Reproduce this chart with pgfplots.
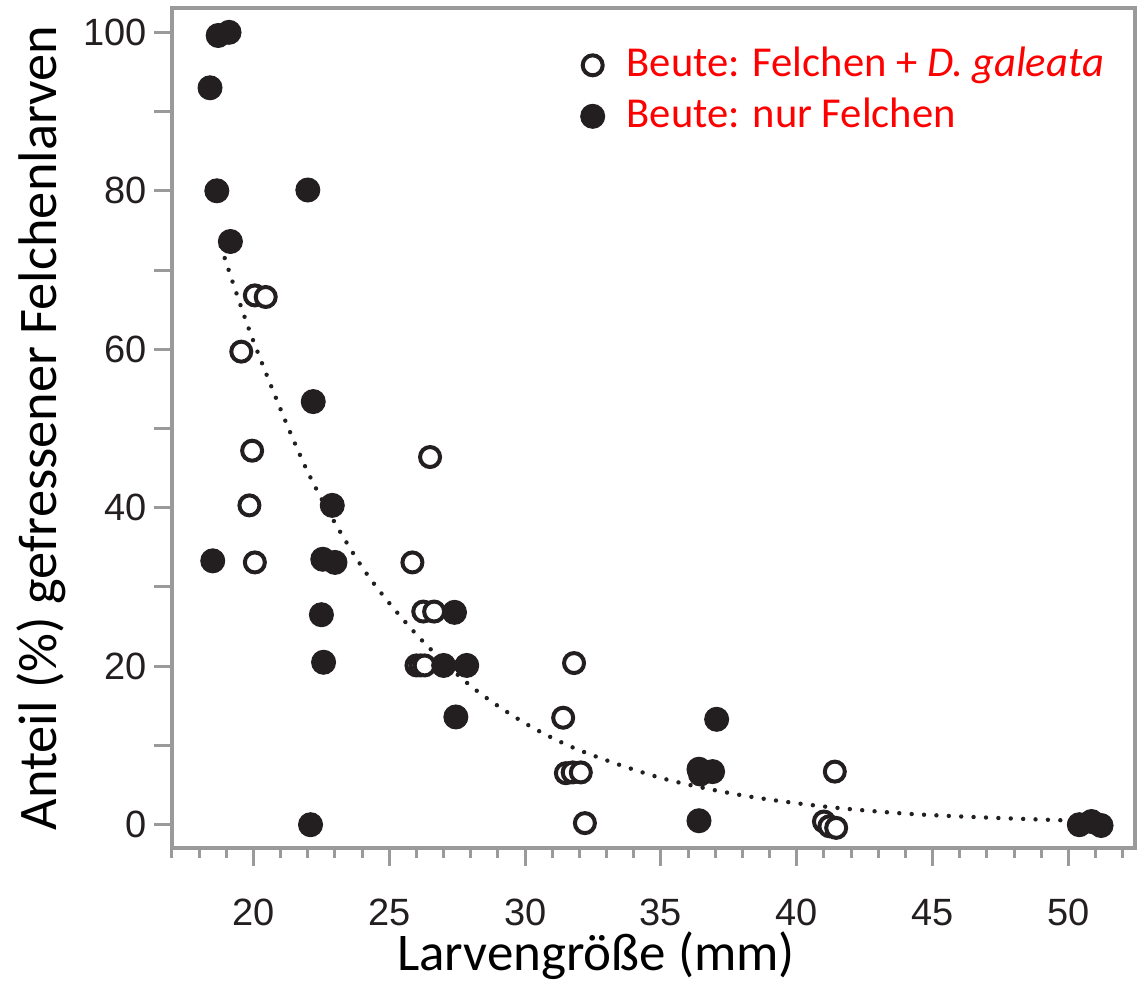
\documentclass[border=0pt]{standalone}
\usepackage{fontspec}
\setmainfont{Carlito}
\newfontfamily\arialfont{Liberation Sans}
\usepackage{pgfplots}
\pgfplotsset{compat=1.18}
\usetikzlibrary{calc}
\definecolor{spine}{HTML}{9A9A9A}
\definecolor{ink}{HTML}{231F20}
\definecolor{legred}{HTML}{FF0000}

\begin{document}
\begin{tikzpicture}
\begin{axis}[
  scale only axis, width=481.5pt, height=420pt,
  xmin=17, xmax=52.45, ymin=-2.94, ymax=103.07,
  axis line style={spine, line width=1.8pt},
  tick align=outside,
  xtick pos=bottom, ytick pos=left,
  major tick style={spine, line width=1.5pt},
  minor tick style={spine, line width=1.5pt},
  major tick length=9pt, minor tick length=5pt,
  xtick={20,25,...,50},
  minor xtick={17,18,19,21,22,23,24,26,27,28,29,31,32,33,34,36,37,38,39,41,42,43,44,46,47,48,49,51,52},
  ytick={0,10,...,100},
  yticklabels={0,,20,,40,,60,,80,,100},
  xticklabels={20,25,30,35,40,45,50},
  ticklabel style={font=\arialfont\fontsize{19}{22}\selectfont, text=ink},
  xticklabel style={yshift=-13pt},
  xlabel={Larvengröße (mm)},
  ylabel={Anteil (\%) gefressener Felchenlarven},
  label style={font=\fontsize{26.5}{30}\selectfont, text=black},
  xlabel style={at={(axis description cs:0.5,0)}, anchor=base, inner sep=0pt, xshift=-28.75pt, yshift=-61pt},
  ylabel style={at={(axis description cs:-0.136,0.5)}, anchor=center, font=\fontsize{27.2}{30}\selectfont},
  legend style={draw=none, fill=none, inner sep=0pt, at={(0.424,0.962)}, anchor=north west,
    font=\fontsize{21.3}{24}\selectfont, text=legred, row sep=0.5pt,
    nodes={inner sep=2pt, text height=16pt, text depth=5pt},
    /tikz/every odd column/.append style={column sep=9pt}},
  legend cell align=left,
]
% dotted trend curve
\addplot[ink, line width=2.2pt, dash pattern=on 0pt off 6.2pt, line cap=round, smooth, forget plot]
  coordinates {(18.8,73) (20,61) (22,44.5) (24,32.5) (26,24) (28,17.5) (30,12.8) (32,9.4)
               (35,5.9) (38,3.7) (41,2.3) (44,1.4) (47,0.9) (50.3,0.5)};
% Beute: Felchen + D. galeata (open)
\addplot[only marks, mark=*, mark size=5pt, mark options={fill=white, draw=ink, line width=2pt}]
  coordinates {
  (20.05,66.8) (20.45,66.6) (19.55,59.7) (19.95,47.2) (19.85,40.3) (20.05,33.1)
  (26.5,46.4) (25.85,33.1) (26.25,26.9) (26.65,26.9) (26.0,20.1) (26.15,20.1) (26.3,20.1)
  (31.8,20.4) (31.4,13.5) (31.5,6.5) (31.75,6.6) (32.05,6.6) (32.2,0.2)
  (41.4,6.7) (41.0,0.4) (41.2,-0.2) (41.45,-0.4)
  };
\addlegendentry{Beute: Felchen + \textit{D. galeata}}
% Beute: nur Felchen (filled)
\addplot[only marks, mark=*, mark size=6pt, mark options={fill=ink, draw=ink, line width=0.5pt}]
  coordinates {
  (18.7,99.6) (19.1,100.0) (18.4,93.0) (18.65,80.0) (22.0,80.1) (19.15,73.6)
  (22.2,53.4) (22.9,40.3) (18.5,33.3) (22.55,33.5) (23.0,33.1) (22.5,26.5) (22.58,20.5) (22.1,0.0)
  (27.4,26.8) (27.0,20.1) (27.85,20.1) (27.45,13.6)
  (37.05,13.3) (36.4,7.0) (36.45,6.4) (36.9,6.7) (36.4,0.5)
  (50.4,0.0) (50.85,0.4) (51.2,-0.1)
  };
\addlegendentry{Beute: nur Felchen}
\end{axis}
\pgfresetboundingbox
\path[use as bounding box] ($(current axis.south west)+(-86pt,-66.5pt)$) rectangle ($(current axis.north east)+(6pt,4pt)$);
\end{tikzpicture}
\end{document}
